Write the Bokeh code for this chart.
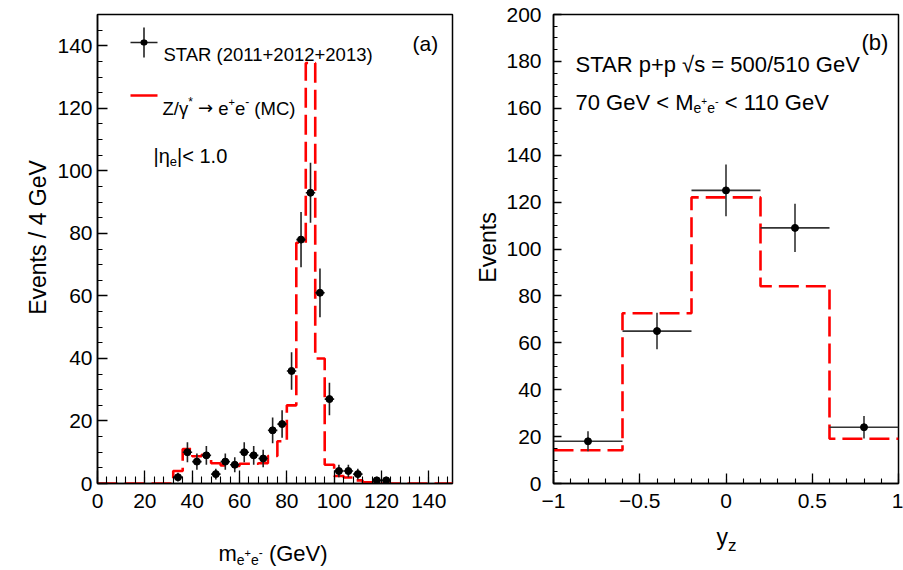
import math
from bokeh.plotting import figure
from bokeh.models import Range1d, FixedTicker, Label, Arrow
from bokeh.layouts import row, column
from bokeh.embed import file_html
from bokeh.resources import INLINE

FONT = "Liberation Sans"

# ---------------- data: panel (a) invariant mass ----------------
mass_centers = [34, 38, 42, 46, 50, 54, 58, 62, 66, 70, 74, 78, 82, 86, 90, 94,
                98, 102, 106, 110, 118, 122]
mass_counts = [2, 10, 7, 9, 3, 7, 6, 10, 9, 8, 17, 19, 36, 78, 93, 61,
               27, 4, 4, 3, 1, 1]
mass_errors = [1.4, 3.2, 2.6, 3.0, 1.7, 2.6, 2.4, 3.2, 3.0, 2.8, 4.1, 4.4, 6.0, 8.8, 9.6, 7.8,
               5.2, 2.0, 2.0, 1.7, 1.0, 1.0]
mass_halfwidth = 2
mc_mass_edges = [0, 32, 36, 40, 44, 48, 52, 56, 60, 64, 68, 72, 76, 80, 84, 88, 92, 96,
                 100, 104, 108, 112, 116, 150]
mc_mass_counts = [0, 4, 11, 8.7, 9.2, 6.5, 5.8, 5.6, 6.3, 6.3, 6.5, 8.8, 13.5, 25, 77, 134.5,
                  40, 6, 2.4, 1.9, 1.0, 0.4, 0]

# ---------------- data: panel (b) rapidity ----------------
yz_centers = [-0.8, -0.4, 0.0, 0.4, 0.8]
yz_counts = [18, 65, 125, 109, 24]
yz_errors = [4.3, 7.8, 11.0, 10.3, 4.8]
yz_halfwidth = 0.2
mc_yz_edges = [-1.0, -0.6, -0.2, 0.2, 0.6, 1.0]
mc_yz_counts = [14.2, 72.6, 122, 84.1, 19.1]

mass_xticks = [0, 20, 40, 60, 80, 100, 120, 140]
mass_yticks = [0, 20, 40, 60, 80, 100, 120, 140]
yz_xticks = [-1, -0.5, 0, 0.5, 1]
yz_xlabels = ["\u22121", "\u22120.5", "0", "0.5", "1"]
yz_yticks = [0, 20, 40, 60, 80, 100, 120, 140, 160, 180, 200]

# ---------------- text helpers ----------------
W = {' ': 278, '(': 333, ')': 333, '+': 584, '-': 333, '/': 278, '.': 278, '<': 584,
     '=': 584, '|': 260, '*': 389, '\u221a': 549, '\u2192': 838, '\u03b3': 500,
     '\u03b7': 556, '\u2212': 584, 'A': 667, 'C': 722, 'G': 778, 'M': 833, 'R': 722,
     'S': 667, 'T': 611, 'V': 667, 'Z': 611, 'E': 667, 'e': 556, 'm': 833, 'p': 556,
     's': 500, 'y': 500, 'z': 500, 'n': 556, 't': 278, 'v': 500}


def tw(t, size):
    return sum(W.get(c, 556) for c in t) / 1000.0 * size


def rich(p, runs, x, y):
    """runs: (text, size_px, dy_px[, font]); x, y frame-relative screen px (y up)."""
    for r in runs:
        t, s, dy = r[0], r[1], r[2]
        font = r[3] if len(r) > 3 else FONT
        lead = len(t) - len(t.lstrip(' '))
        body = t.strip(' ')
        xx = x + tw(' ' * lead, s)
        if body:
            p.add_layout(Label(x=xx, y=y + dy, x_units="screen", y_units="screen",
                               text=body, text_font=font, text_font_size=f"{s}px",
                               text_color="black", text_align="left",
                               text_baseline="alphabetic"))
        x += tw(t, s)


def style(p, xmaj, xmin, ymaj, ymin, xin, xmin_in, yin, ymin_in, ystand, xstand):
    p.grid.visible = False
    p.outline_line_color = "black"
    p.outline_line_width = 1.5
    p.background_fill_color = "white"
    p.border_fill_color = "white"
    p.xaxis.ticker = FixedTicker(ticks=xmaj, minor_ticks=xmin)
    p.yaxis.ticker = FixedTicker(ticks=ymaj, minor_ticks=ymin)
    for ax in (p.xaxis[0], p.yaxis[0]):
        ax.axis_line_width = 1.5
        ax.axis_line_color = "black"
        ax.major_tick_out = 0
        ax.minor_tick_out = 0
        ax.major_tick_line_width = 1.3
        ax.minor_tick_line_width = 1.1
        ax.major_tick_line_color = "black"
        ax.minor_tick_line_color = "black"
        ax.major_label_text_font = FONT
        ax.major_label_text_font_size = "21px"
        ax.major_label_text_color = "black"
    p.xaxis.major_tick_in = xin
    p.xaxis.minor_tick_in = xmin_in
    p.yaxis.major_tick_in = yin
    p.yaxis.minor_tick_in = ymin_in
    p.yaxis.major_label_standoff = ystand
    p.xaxis.major_label_standoff = xstand


def strip(width, height):
    s = figure(width=width, height=height, x_range=Range1d(0, 1), y_range=Range1d(0, 1),
               output_backend="svg", toolbar_location=None,
               x_axis_location=None, y_axis_location=None,
               min_border_left=0, min_border_right=0, min_border_top=0, min_border_bottom=0)
    s.grid.visible = False
    s.outline_line_color = None
    s.background_fill_color = "white"
    s.border_fill_color = "white"
    return s


def seg(p, x0, y0, x1, y1, color, width, cap="butt"):
    p.add_layout(Arrow(x_start=x0, y_start=y0, x_end=x1, y_end=y1,
                       start_units="screen", end_units="screen", end=None,
                       line_color=color, line_width=width, line_cap=cap))


TOP_H = 525

# ---------------- panel (a) ----------------
# frame (page px): left 97, top 14, right 452, bottom 486
pa = figure(width=420, height=TOP_H, x_range=Range1d(0, 150), y_range=Range1d(0, 150),
            output_backend="svg", toolbar_location=None,
            min_border_left=47, min_border_right=18, min_border_top=14, min_border_bottom=39)
style(pa, mass_xticks, list(range(0, 151, 4)), mass_yticks, list(range(0, 151, 5)),
      13, 7, 10, 5, 5, 10)

pa.step(x=mc_mass_edges, y=mc_mass_counts + [mc_mass_counts[-1]], mode="after",
        line_color="#ff0000", line_width=2.6, line_dash="20 7")
lo = [c - e for c, e in zip(mass_counts, mass_errors)]
hi = [c + e for c, e in zip(mass_counts, mass_errors)]
pa.segment(x0=mass_centers, y0=lo, x1=mass_centers, y1=hi, line_color="#222222", line_width=1.6)
pa.segment(x0=[c - mass_halfwidth for c in mass_centers], y0=mass_counts,
           x1=[c + mass_halfwidth for c in mass_centers], y1=mass_counts,
           line_color="#222222", line_width=1.6)
pa.scatter(x=mass_centers, y=mass_counts, size=7, color="black")

A = lambda cx, cy: (cx - 97, 486 - cy)
# legend symbols
x0, y0 = A(130, 45); x1, _ = A(157, 45)
seg(pa, x0, y0, x1, y0, "#222222", 1.6)
xc, yt = A(143.5, 30); _, yb = A(143.5, 60)
seg(pa, xc, yt, xc, yb, "#222222", 1.6)
seg(pa, xc - 0.5, y0, xc + 0.5, y0, "black", 6, "round")
x0, y0 = A(130, 98); x1, _ = A(157, 98)
seg(pa, x0, y0, x1, y0, "#ff0000", 2.6)

rich(pa, [("STAR (2011+2012+2013)", 18.5, 0)], *A(163, 57))
rich(pa, [("Z/\u03b3", 18.5, 0), ("*", 12, 7), (" ", 18.5, 0), ("\u2192", 18, 1, "DejaVu Sans"),
          (" e", 18.5, 0), ("+", 11, 7), ("e", 18.5, 0), ("-", 12, 7), (" (MC)", 18.5, 0)],
     *A(162, 111))
rich(pa, [("|\u03b7", 20, 0), ("e", 13, -6), ("|< 1.0", 20, 0)], *A(153, 158))
rich(pa, [("(a)", 21, 0)], *A(412, 46))

# ---------------- panel (b) ----------------
# frame (page px): left 553, top 13, right 898, bottom 483
pb = figure(width=403, height=TOP_H, x_range=Range1d(-1, 1), y_range=Range1d(0, 200),
            output_backend="svg", toolbar_location=None,
            min_border_left=53, min_border_right=5, min_border_top=13, min_border_bottom=42)
style(pb, yz_xticks, [round(-1 + 0.1 * i, 2) for i in range(21)], yz_yticks,
      list(range(0, 201, 5)), 10, 5, 8, 4, 12, 10)
pb.xaxis.major_label_overrides = {t: l for t, l in zip(yz_xticks, yz_xlabels)}

pb.step(x=mc_yz_edges, y=mc_yz_counts + [mc_yz_counts[-1]], mode="after",
        line_color="#ff0000", line_width=2.6, line_dash="20 7")
lo = [c - e for c, e in zip(yz_counts, yz_errors)]
hi = [c + e for c, e in zip(yz_counts, yz_errors)]
pb.segment(x0=yz_centers, y0=lo, x1=yz_centers, y1=hi, line_color="#333333", line_width=1.6)
pb.segment(x0=[c - yz_halfwidth for c in yz_centers], y0=yz_counts,
           x1=[c + yz_halfwidth for c in yz_centers], y1=yz_counts,
           line_color="#333333", line_width=1.6)
pb.scatter(x=yz_centers, y=yz_counts, size=7, color="black")

B = lambda cx, cy: (cx - 553, 483 - cy)
rich(pb, [("STAR p+p \u221as = 500/510 GeV", 22, 0)], *B(575, 64))
rich(pb, [("70 GeV < M", 22, 0), ("e", 14, -5), ("+", 10, 2), ("e", 14, -5), ("-", 11, 2),
          (" < 110 GeV", 22, 0)], *B(575, 102))
rich(pb, [("(b)", 22, 0)], *B(861, 42))

# ---------------- axis titles (separate strips, unclipped) ----------------
ya = strip(50, TOP_H)           # page x 0..50
ya.add_layout(Label(x=37, y=246, x_units="screen", y_units="screen",
                    text="Events / 4 GeV", angle=math.pi / 2, text_font=FONT,
                    text_font_size="23px", text_align="center", text_baseline="middle",
                    text_color="black"))
yb = strip(30, TOP_H)           # page x 470..500
yb.add_layout(Label(x=487 - 470, y=236, x_units="screen", y_units="screen",
                    text="Events", angle=math.pi / 2, text_font=FONT,
                    text_font_size="23px", text_align="center", text_baseline="middle",
                    text_color="black"))
xt = strip(903, 570 - TOP_H)    # page y 525..570
X = lambda cx, cy: (cx, 570 - cy)
rich(xt, [("m", 22, 0), ("e", 14, -6), ("+", 11, 1), ("e", 14, -6), ("-", 12, 1),
          (" (GeV)", 22, 0)], *X(218, 553))
rich(xt, [("y", 23, 0), ("z", 17, -9)], *X(716, 536))

layout = column(row(ya, pa, yb, pb), xt)
open("out.html", "w").write(file_html(layout, INLINE))
